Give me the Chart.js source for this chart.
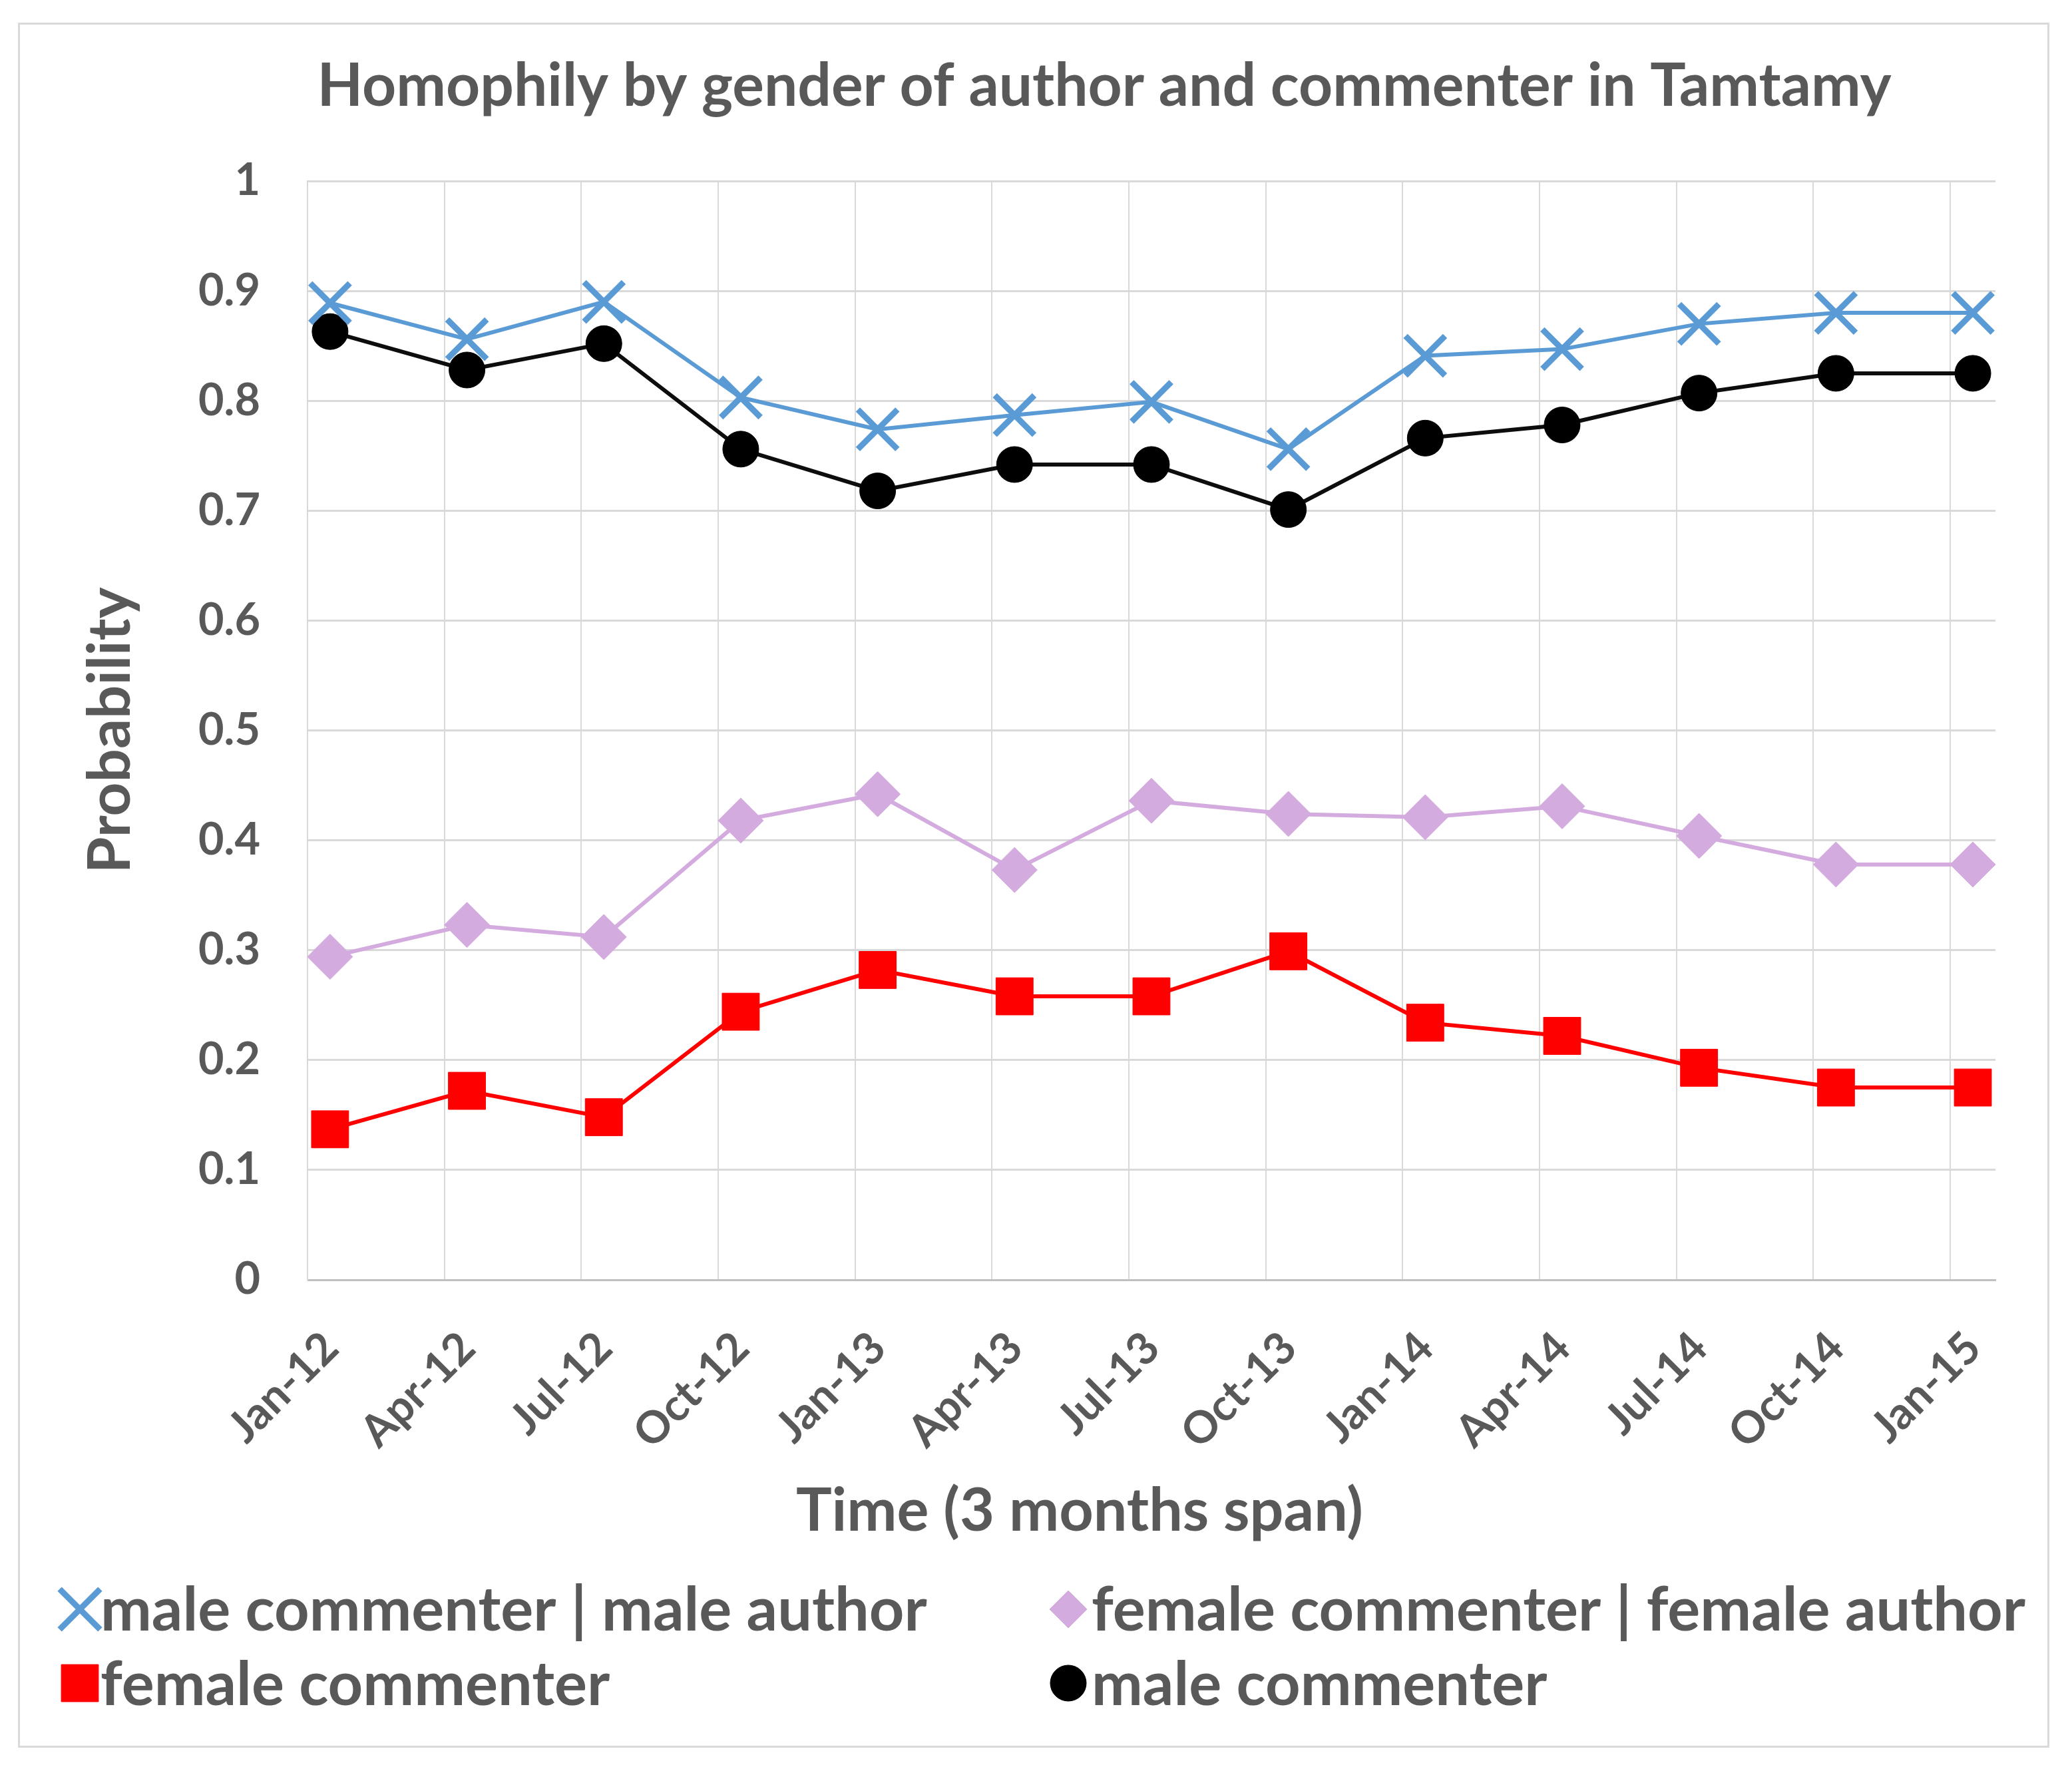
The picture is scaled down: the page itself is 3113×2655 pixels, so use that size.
<!DOCTYPE html>
<html lang="en">

<head>
    <meta charset="UTF-8">
    <title>Homophily by gender of author and commenter in Tamtamy</title>
    <script src="https://cdn.jsdelivr.net/npm/chart.js"></script>
    <style>
        html, body { margin: 0; padding: 0; background: #fff; }
        #frame {
            position: absolute; left: 27px; top: 34px;
            width: 3052px; height: 2592px;
            box-sizing: border-box; border: 3px solid #d9d9d9;
        }
        #chart { position: absolute; left: 0; top: 0; }
    </style>
</head>

<body>
    <div id="frame"></div>
    <canvas id="chart" width="3113" height="2655" style="width:3113px;height:2655px"></canvas>

    <script>
        // quarters (points sit mid-month, axis grid on the 1st)
        var quarterLabels = ['Jan-12', 'Apr-12', 'Jul-12', 'Oct-12', 'Jan-13', 'Apr-13', 'Jul-13',
            'Oct-13', 'Jan-14', 'Apr-14', 'Jul-14', 'Oct-14', 'Jan-15'];

        var maleGivenMale = [0.889, 0.856, 0.890, 0.803, 0.774, 0.787, 0.799, 0.756, 0.841, 0.847, 0.870, 0.880, 0.880];
        var femaleGivenFemale = [0.294, 0.323, 0.312, 0.418, 0.442, 0.373, 0.436, 0.424, 0.421, 0.431, 0.404, 0.378, 0.378];
        var femaleCommenter = [0.137, 0.172, 0.148, 0.244, 0.282, 0.258, 0.258, 0.299, 0.234, 0.222, 0.193, 0.175, 0.175];
        var maleCommenter = [0.863, 0.828, 0.852, 0.756, 0.718, 0.742, 0.742, 0.701, 0.766, 0.778, 0.807, 0.825, 0.825];

        var yTickLabels = ['0', '0.1', '0.2', '0.3', '0.4', '0.5', '0.6', '0.7', '0.8', '0.9', '1'];

        var seriesNames = ['male commenter | male author', 'female commenter | female author',
            'female commenter', 'male commenter'];

        var DAY_SHIFT = 15 / 91;   // data is dated the 15th of the quarter's first month
        var FONT = 'Lato';
        var TEXT = '#595959';

        // font size that makes a text reach a given width
        function fitSize(text, target) {
            var m = document.createElement('canvas').getContext('2d');
            m.font = 'bold 100px ' + FONT;
            return 100 * target / m.measureText(text).width;
        }
        var tickSize = fitSize('0.9', 93);
        var titleSize = fitSize('Homophily by gender of author and commenter in Tamtamy', 2365);
        var axisTitleSize = fitSize('Time (3 months span)', 852);
        var legendSize = fitSize(seriesNames[0], 1242);

        function toPoints(values) {
            return values.map(function (v, i) { return { x: i + DAY_SHIFT, y: v }; });
        }

        // title, x-axis title and the two column legend
        var textPlugin = {
            id: 'texts',
            afterDraw: function (chart) {
                var ctx = chart.ctx;
                ctx.save();
                ctx.fillStyle = TEXT;
                ctx.textBaseline = 'alphabetic';
                ctx.textAlign = 'center';
                ctx.font = 'bold ' + titleSize + 'px ' + FONT;
                ctx.fillText('Homophily by gender of author and commenter in Tamtamy', 1659, 159);
                ctx.font = 'bold ' + axisTitleSize + 'px ' + FONT;
                ctx.fillText('Time (3 months span)', 1622, 2300);

                var slots = [[120, 2418, 151, 2450], [1605, 2418, 1640, 2450],
                    [120, 2529, 151, 2562], [1605, 2529, 1640, 2562]];
                var marks = [
                    { pointStyle: 'crossRot', radius: 43, borderWidth: 9, color: '#5b9bd5' },
                    { pointStyle: 'rectRot', radius: 28, borderWidth: 1, color: '#d4abdf' },
                    { pointStyle: 'rect', radius: 39.5, borderWidth: 1, color: '#ff0000' },
                    { pointStyle: 'circle', radius: 27, borderWidth: 1, color: '#000000' }
                ];
                ctx.textAlign = 'left';
                ctx.font = 'bold ' + legendSize + 'px ' + FONT;
                for (var i = 0; i < 4; i++) {
                    var s = slots[i], mk = marks[i];
                    ctx.fillStyle = mk.color;
                    ctx.strokeStyle = mk.color;
                    ctx.lineWidth = mk.borderWidth;
                    Chart.helpers.drawPoint(ctx, { pointStyle: mk.pointStyle, radius: mk.radius, rotation: 0, borderWidth: mk.borderWidth }, s[0], s[1]);
                    ctx.fillStyle = TEXT;
                    ctx.fillText(seriesNames[i], s[2], s[3]);
                }
                ctx.restore();
            }
        };

        var ctx = document.getElementById('chart').getContext('2d');
        var myChart = new Chart(ctx, {
            type: 'line',
            data: {
                datasets: [{
                    label: seriesNames[0],
                    data: toPoints(maleGivenMale),
                    borderColor: '#5b9bd5',
                    borderWidth: 6,
                    pointStyle: 'crossRot',
                    pointRadius: 42,
                    pointBorderWidth: 9,
                    pointBorderColor: '#5b9bd5',
                    pointBackgroundColor: '#5b9bd5'
                }, {
                    label: seriesNames[3],
                    data: toPoints(maleCommenter),
                    borderColor: '#0d0d0d',
                    borderWidth: 6,
                    pointStyle: 'circle',
                    pointRadius: 27,
                    pointBorderWidth: 1,
                    pointBorderColor: '#000',
                    pointBackgroundColor: '#000'
                }, {
                    label: seriesNames[1],
                    data: toPoints(femaleGivenFemale),
                    borderColor: '#d4abdf',
                    borderWidth: 6,
                    pointStyle: 'rectRot',
                    pointRadius: 34,
                    pointBorderWidth: 1,
                    pointBorderColor: '#d4abdf',
                    pointBackgroundColor: '#d4abdf'
                }, {
                    label: seriesNames[2],
                    data: toPoints(femaleCommenter),
                    borderColor: '#ff0000',
                    borderWidth: 6,
                    pointStyle: 'rect',
                    pointRadius: 39.5,
                    pointBorderWidth: 1,
                    pointBorderColor: '#ff0000',
                    pointBackgroundColor: '#ff0000'
                }]
            },
            options: {
                responsive: false,
                animation: false,
                devicePixelRatio: 1,
                layout: { padding: { left: 0, right: 115, top: 272, bottom: 432 } },
                plugins: {
                    legend: { display: false },
                    title: { display: false },
                    tooltip: { enabled: false }
                },
                elements: { line: { tension: 0 } },
                scales: {
                    x: {
                        type: 'linear',
                        min: 0,
                        max: 12.33,
                        afterFit: function (scale) { scale.height = 300; },
                        grid: { color: '#d9d9d9', lineWidth: 2, drawTicks: false },
                        border: { display: true, color: '#bfbfbf', width: 3 },
                        ticks: {
                            stepSize: 1,
                            includeBounds: false,
                            autoSkip: false,
                            maxRotation: 45,
                            minRotation: 45,
                            labelOffset: 35,
                            padding: 63,
                            color: TEXT,
                            font: { family: FONT, size: tickSize, weight: 'bold' },
                            callback: function (value) {
                                return quarterLabels[Math.round(value)] || '';
                            }
                        }
                    },
                    y: {
                        min: 0,
                        max: 1,
                        afterFit: function (scale) { scale.width = 462; },
                        grid: { color: '#d9d9d9', lineWidth: 3, drawTicks: false },
                        border: { display: true, color: '#d9d9d9', width: 2 },
                        title: {
                            display: true,
                            text: 'Probability',
                            color: TEXT,
                            font: { family: FONT, size: fitSize('Probability', 430), weight: 'bold' },
                            padding: { top: 113, bottom: 0 }
                        },
                        ticks: {
                            stepSize: 0.1,
                            padding: 71,
                            color: TEXT,
                            font: { family: FONT, size: tickSize, weight: 'bold' },
                            callback: function (value) {
                                return yTickLabels[Math.round(value * 10)];
                            }
                        }
                    }
                }
            },
            plugins: [textPlugin]
        });
    </script>
</body>

</html>
